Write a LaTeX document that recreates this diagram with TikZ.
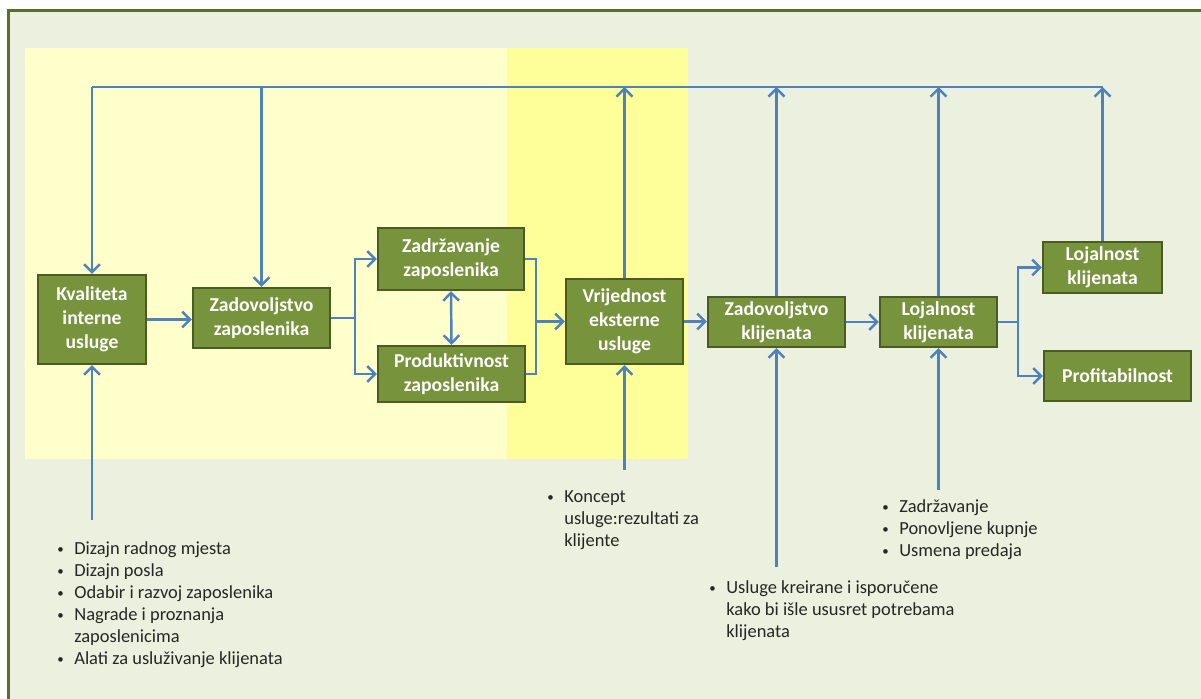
\documentclass[tikz,border=0pt]{standalone}
\usepackage{fontspec}
\setmainfont{Carlito}
\usepackage{xcolor}
\usetikzlibrary{arrows.meta}
\definecolor{boxgreen}{HTML}{77933C}
\definecolor{boxedge}{HTML}{4A5C24}
\definecolor{lineblue}{HTML}{4F81BD}
\definecolor{bggreen}{HTML}{EBF1DE}
\definecolor{paleyellow}{HTML}{FFFFCC}
\definecolor{brightyellow}{HTML}{FFFF99}
\definecolor{frameolive}{HTML}{5B6D2B}
\tikzstyle{box} = [draw=boxedge, line width=1.3pt, fill=boxgreen, text=white, font=\bfseries\fontsize{11.2}{13.6}\selectfont, align=center, inner sep=2pt]
\tikzstyle{arrow} = [line width=1.4pt, draw=lineblue, -{Straight Barb[length=4.5pt,width=9pt]}]
\tikzstyle{twoway} = [line width=1.4pt, draw=lineblue, {Straight Barb[length=4.5pt,width=9pt]}-{Straight Barb[length=4.5pt,width=9pt]}]
\tikzstyle{link} = [line width=1.4pt, draw=lineblue]
\tikzstyle{notes} = [anchor=north west, inner sep=0pt, text=black!85, font=\fontsize{10.5}{12.5}\selectfont]
\newcommand{\dotmark}{\raisebox{0.12ex}{\scalebox{0.7}{\textbullet}}}
\newcommand{\bulletlist}[1]{\begin{tabular}{@{}l@{\hspace{6pt}}l@{}}#1\end{tabular}}

\begin{document}
\begin{tikzpicture}
\useasboundingbox (0,0) rectangle (24.02,13.98);

% Background and frame
\fill[white] (0,0) rectangle (24.02,13.98);
\fill[bggreen] (0.17,0) rectangle (24.02,13.77);
\draw[frameolive, line width=1.6pt] (0.17,0) -- (0.17,13.77) -- (24.02,13.77);

% Highlighted zones
\fill[paleyellow] (0.5,4.8) rectangle (10.14,13.02);
\fill[brightyellow] (10.14,4.8) rectangle (13.76,13.02);

% Chain boxes
\node[box, minimum width=2.16cm, minimum height=1.78cm] (kval) at (1.84,7.59) {Kvaliteta\\interne\\usluge};
\node[box, minimum width=2.74cm, minimum height=1.2cm] (zadz) at (5.23,7.62) {Zadovoljstvo\\zaposlenika};
\node[box, minimum width=2.92cm, minimum height=1.24cm] (zadr) at (9.02,8.80) {Zadržavanje\\zaposlenika};
\node[box, minimum width=2.94cm, minimum height=1.12cm] (prod) at (9.03,6.50) {Produktivnost\\zaposlenika};
\node[box, minimum width=2.34cm, minimum height=1.70cm] (vrij) at (12.49,7.55) {Vrijednost\\eksterne\\usluge};
\node[box, minimum width=2.74cm, minimum height=1.0cm] (zadk) at (15.53,7.54) {Zadovoljstvo\\klijenata};
\node[box, minimum width=2.34cm, minimum height=1.0cm] (loj) at (18.77,7.54) {Lojalnost\\klijenata};
\node[box, minimum width=2.38cm, minimum height=1.02cm] (lojt) at (22.05,8.63) {Lojalnost\\klijenata};
\node[box, minimum width=2.94cm, minimum height=1.0cm] (prof) at (22.35,6.46) {Profitabilnost};

% Forward links
\draw[arrow] (kval.east) -- (kval.east -| zadz.west);
\coordinate (brA) at (7.10,7.62);
\draw[link] (zadz.east) -- (brA);
\draw[arrow] (brA) |- (zadr.west);
\draw[arrow] (brA) |- (prod.west);
\draw[twoway] (zadr.south) -- (prod.north);
\coordinate (brB) at (10.72,7.55);
\draw[link] (zadr.east) -| (brB);
\draw[link] (prod.east) -| (brB);
\draw[arrow] (brB) -- (vrij.west);
\draw[arrow] (vrij.east) -- (vrij.east -| zadk.west);
\draw[arrow] (zadk.east) -- (zadk.east -| loj.west);
\coordinate (brC) at (20.36,7.54);
\draw[link] (loj.east) -- (brC);
\draw[arrow] (brC) |- (lojt.west);
\draw[arrow] (brC) |- (prof.west);

% Feedback line
\coordinate (fb) at (0,12.24);
\draw[link] (kval.north |- fb) -- (lojt.north |- fb);
\draw[arrow] (kval.north |- fb) -- (kval.north);
\draw[arrow] (zadz.north |- fb) -- (zadz.north);
\draw[arrow] (vrij.north) -- (vrij.north |- fb);
\draw[arrow] (zadk.north) -- (zadk.north |- fb);
\draw[arrow] (loj.north) -- (loj.north |- fb);
\draw[arrow] (lojt.north) -- (lojt.north |- fb);

% Inputs from below
\coordinate (inA) at (1.84,3.58);
\coordinate (inB) at (12.49,4.58);
\coordinate (inC) at (15.53,2.64);
\coordinate (inD) at (18.77,4.18);
\draw[arrow] (inA) -- (inA |- kval.south);
\draw[arrow] (inB) -- (inB |- vrij.south);
\draw[arrow] (inC) -- (inC |- zadk.south);
\draw[arrow] (inD) -- (inD |- loj.south);

% Notes
\node[notes] (noteA) at (1.14,3.20) {\bulletlist{%
\dotmark & Dizajn radnog mjesta\\
\dotmark & Dizajn posla\\
\dotmark & Odabir i razvoj zaposlenika\\
\dotmark & Nagrade i proznanja\\
 & zaposlenicima\\
\dotmark & Alati za usluživanje klijenata}};
\node[notes] (noteB) at (10.94,4.24) {\bulletlist{%
\dotmark & Koncept\\
 & usluge:rezultati za\\
 & klijente}};
\node[notes] (noteC) at (14.18,2.42) {\bulletlist{%
\dotmark & Usluge kreirane i isporučene\\
 & kako bi išle ususret potrebama\\
 & klijenata}};
\node[notes] (noteD) at (17.64,4.04) {\bulletlist{%
\dotmark & Zadržavanje\\
\dotmark & Ponovljene kupnje\\
\dotmark & Usmena predaja}};
\end{tikzpicture}
\end{document}
